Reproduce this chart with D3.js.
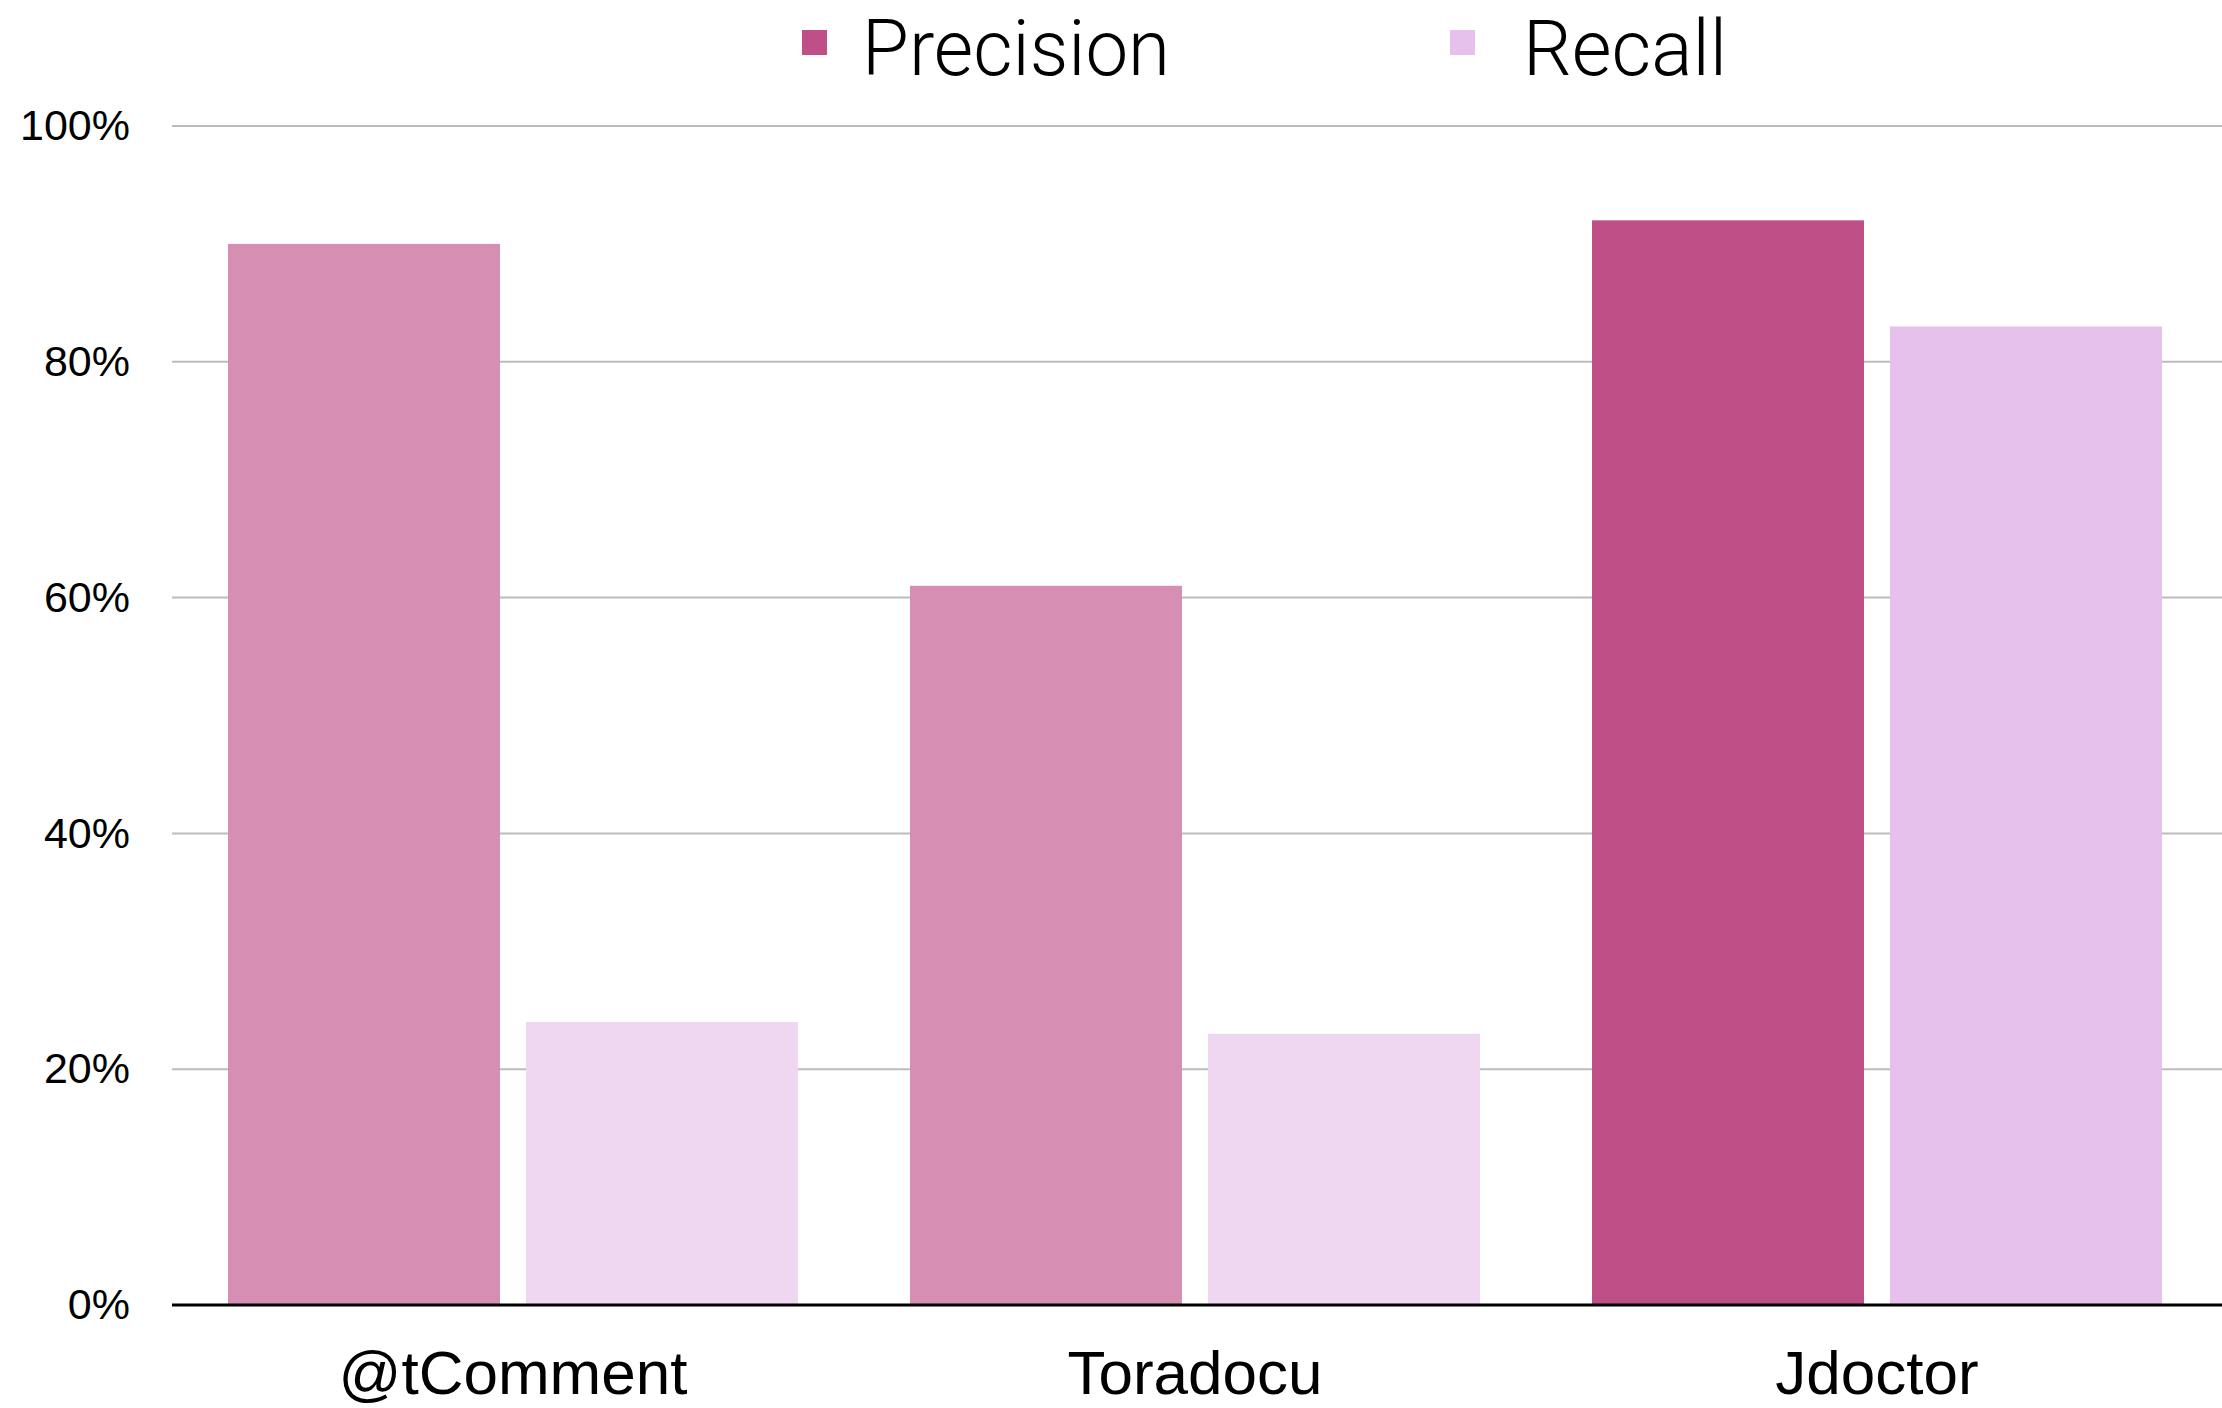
<!DOCTYPE html>
<html>
<head>
<meta charset="utf-8">
<script src="https://cdn.jsdelivr.net/npm/d3@7/dist/d3.min.js"></script>
<style>
  html, body { margin: 0; padding: 0; background: #fff; }
  svg { display: block; }
</style>
</head>
<body>
<svg id="chart" width="2222" height="1408"></svg>
<script>
// Tools compared, and which one is emphasised (the others are drawn faded)
const tools = ["@tComment", "Toradocu", "Jdoctor"];
const highlighted = ["Jdoctor"];

// Metric series (percent)
const series = ["Precision", "Recall"];
const precision = [90, 61, 92];
const recall = [24, 23, 83];

// Axis ticks
const yTicks = [0, 20, 40, 60, 80, 100];

const colors = { Precision: "#bf4f87", Recall: "#e6c1eb" };
const fadeAmount = 0.36; // share of white mixed into non-highlighted bars

const rows = tools.map((t, i) => ({ tool: t, Precision: precision[i], Recall: recall[i] }));

const svg = d3.select("#chart");
const plotLeft = 172, plotRight = 2218, plotTop = 126, plotBottom = 1305;

const x = d3.scaleBand().domain(tools).range([plotLeft, plotRight]).padding(0);
const xs = d3.scaleBand().domain(series).range([0, x.bandwidth()])
  .paddingInner(0.0872).paddingOuter(0.188);
const y = d3.scaleLinear().domain([0, 100]).range([plotBottom, plotTop]);

// Horizontal gridlines
svg.append("g")
  .selectAll("line")
  .data(yTicks.filter(d => d > 0))
  .join("line")
  .attr("x1", plotLeft).attr("x2", 2222)
  .attr("y1", d => y(d)).attr("y2", d => y(d))
  .attr("stroke", "#bcbcbc").attr("stroke-width", 2);

// Bars
const groups = svg.append("g")
  .selectAll("g")
  .data(rows)
  .join("g")
  .attr("transform", d => `translate(${x(d.tool)},0)`);

groups.selectAll("rect")
  .data(d => series.map(s => ({ key: s, value: d[s], hl: highlighted.includes(d.tool) })))
  .join("rect")
  .attr("x", d => xs(d.key))
  .attr("width", xs.bandwidth())
  .attr("y", d => y(d.value))
  .attr("height", d => y(0) - y(d.value))
  .attr("fill", d => d.hl ? colors[d.key] : d3.interpolateRgb(colors[d.key], "#fff")(fadeAmount));

// Y axis labels
const yAxis = svg.append("g")
  .attr("transform", `translate(${plotLeft},0)`)
  .call(d3.axisLeft(y).tickValues(yTicks).tickSize(0).tickPadding(42).tickFormat(d => d + "%"));
yAxis.select(".domain").remove();
yAxis.selectAll("text")
  .attr("font-family", "'Liberation Sans', Arial, Helvetica, sans-serif")
  .attr("font-size", 43)
  .attr("fill", "#000");

// Baseline
svg.append("line")
  .attr("x1", plotLeft).attr("x2", 2222)
  .attr("y1", y(0)).attr("y2", y(0))
  .attr("stroke", "#000").attr("stroke-width", 3);

// Category labels
const xAxis = svg.append("g")
  .attr("transform", `translate(0,${plotBottom})`)
  .call(d3.axisBottom(x).tickSize(0));
xAxis.select(".domain").remove();
xAxis.selectAll("text")
  .attr("y", 89)
  .attr("dy", null)
  .attr("font-family", "'Liberation Sans', Arial, Helvetica, sans-serif")
  .attr("font-size", 62)
  .attr("fill", "#000");

// Legend
const legendItems = [
  { key: "Precision", sx: 802, tx: 862, w: 308 },
  { key: "Recall", sx: 1450, tx: 1523, w: 204 }
];
const legend = svg.append("g");
legend.selectAll("rect")
  .data(legendItems)
  .join("rect")
  .attr("x", d => d.sx).attr("y", 30)
  .attr("width", 25).attr("height", 25)
  .attr("fill", d => colors[d.key]);
legend.selectAll("text")
  .data(legendItems)
  .join("text")
  .attr("x", d => d.tx).attr("y", 75)
  .attr("font-family", "Roboto, 'Liberation Sans', Arial, sans-serif")
  .attr("font-weight", 300)
  .attr("font-size", 78)
  .attr("textLength", d => d.w)
  .attr("lengthAdjust", "spacingAndGlyphs")
  .attr("fill", "#000")
  .text(d => d.key);
</script>
</body>
</html>
